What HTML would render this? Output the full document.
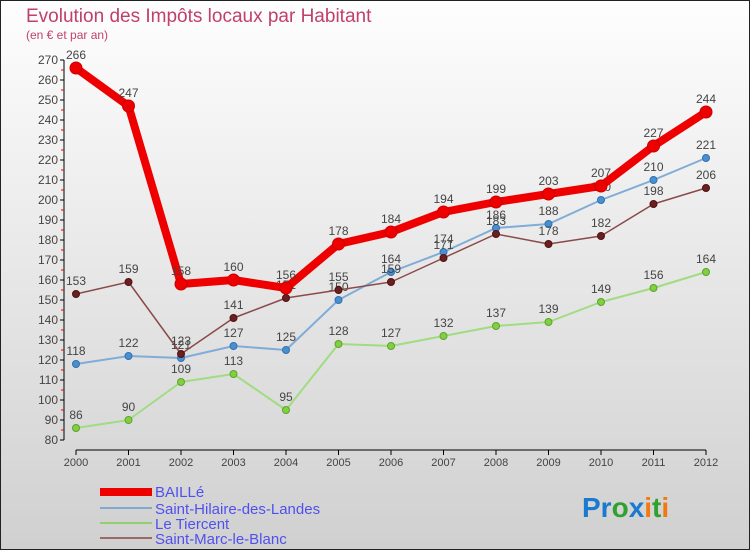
<!DOCTYPE html>
<html><head><meta charset="utf-8"><style>
body{margin:0}
#c{width:750px;height:550px;position:relative;font-family:"Liberation Sans",sans-serif}
</style></head><body>
<div id="c">
<svg id="s" width="750" height="550" xmlns="http://www.w3.org/2000/svg">
<defs><linearGradient id="bg" x1="0" y1="0" x2="0" y2="1"><stop offset="0" stop-color="#fefefe"/><stop offset="1" stop-color="#d0d0d0"/></linearGradient></defs>
<rect x="0.5" y="0.5" width="749" height="549" fill="url(#bg)" stroke="#222"/>
<text x="26" y="22" font-size="19" fill="#c0406a">Evolution des Impôts locaux par Habitant</text>
<text x="26" y="39" font-size="12" fill="#c0406a">(en € et par an)</text>
<g id="axes"></g><g id="series"></g>
<g font-size="15" fill="#5050f0">
<rect x="100" y="488" width="52" height="8" fill="#e00"/>
<text x="155" y="497">BAILLé</text>
<line x1="100" x2="152" y1="508" y2="508" stroke="#80a8d0" stroke-width="2"/>
<text x="155" y="514">Saint-Hilaire-des-Landes</text>
<line x1="100" x2="152" y1="523" y2="523" stroke="#90d070" stroke-width="2"/>
<text x="155" y="529">Le Tiercent</text>
<line x1="100" x2="152" y1="538" y2="538" stroke="#9a6a6a" stroke-width="2"/>
<text x="155" y="544">Saint-Marc-le-Blanc</text>
</g>
<text x="582" y="517" font-size="28" font-weight="bold"><tspan fill="#1a7ad0">Pr</tspan><tspan fill="#30a030">o</tspan><tspan fill="#1a7ad0">x</tspan><tspan fill="#f07a10">i</tspan><tspan fill="#30a030">t</tspan><tspan fill="#f07a10">i</tspan></text>
</svg></div>
<script>
const years=[2000,2001,2002,2003,2004,2005,2006,2007,2008,2009,2010,2011,2012];
const baille=[266,247,158,160,156,178,184,194,199,203,207,227,244];
const hilaire=[118,122,121,127,125,150,164,174,186,188,200,210,221];
const tiercent=[86,90,109,113,95,128,127,132,137,139,149,156,164];
const marc=[153,159,123,141,151,155,159,171,183,178,182,198,206];
const yTicks=[80,90,100,110,120,130,140,150,160,170,180,190,200,210,220,230,240,250,260,270];
const NS="http://www.w3.org/2000/svg";
const xS=i=>76+i*52.5;
const yS=v=>440-(v-80)*2;
function mk(t,a,p){const e=document.createElementNS(NS,t);for(const k in a)e.setAttribute(k,a[k]);p.appendChild(e);return e;}
const ax=document.getElementById('axes');
const yl=mk('line',{x1:64,x2:64,y1:60,y2:440,stroke:'#000'},ax);


const xl=mk('line',{x1:76,x2:706,y1:450,y2:450,stroke:'#000'},ax);


yTicks.forEach(v=>{
 mk('line',{x1:60,x2:64,y1:yS(v),y2:yS(v),stroke:'#000'},ax);
 if(v<270)mk('line',{x1:61,x2:64,y1:yS(v+5),y2:yS(v+5),stroke:'#e00'},ax);
 const t=mk('text',{x:58,y:yS(v)+4,'text-anchor':'end','font-size':12,fill:'#444'},ax);
 t.textContent=v;
 
 
});
years.forEach((y,i)=>{
 mk('line',{x1:xS(i),x2:xS(i),y1:450,y2:455,stroke:'#000'},ax);
 const t=mk('text',{x:xS(i),y:466,'text-anchor':'middle','font-size':11,fill:'#444'},ax);
 t.textContent=y;
 
 
});
const sg=document.getElementById('series');
function series(d,name,col,dot,w,r,dotStroke){
 const g=mk('g',{},sg);
 
 
 const pl=mk('polyline',{points:d.map((v,i)=>xS(i)+','+yS(v)).join(' '),fill:'none',stroke:col,'stroke-width':w,'stroke-linejoin':'round'},g);
 
 
 d.forEach((v,i)=>{
  const c=mk('circle',{cx:xS(i),cy:yS(v),r:r,fill:dot,stroke:dotStroke,'stroke-width':1},g);
  
  
  const t=mk('text',{x:xS(i),y:yS(v)-9,'text-anchor':'middle','font-size':12,fill:'#444'},g);
  t.textContent=v;
  
  
 });
}
series(tiercent,'le-tiercent','#a0dc80','#80d040',2,3.5,'#60a030');
series(hilaire,'saint-hilaire','#80acd8','#4a90d0',2,3.5,'#3070b0');
series(marc,'saint-marc','#8a4a4a','#6a2020',1.5,3.5,'#501010');
series(baille,'baille','#ee0000','#ee0000',8,6,'#cc0000');
</script>
</body></html>
